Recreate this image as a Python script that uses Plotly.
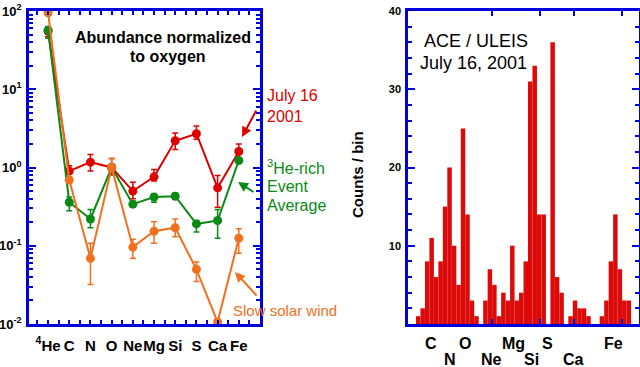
import numpy as np
import plotly.graph_objects as go

# ---------------- data: left panel (abundance normalized to O) ----------------
elements = ["4He", "C", "N", "O", "Ne", "Mg", "Si", "S", "Ca", "Fe"]
element_ticktext = ["<sup>4</sup>He", "C", "N", "O", "Ne", "Mg", "Si", "S", "Ca", "Fe"]

july16 = [55, 0.90, 1.17, 1.0, 0.50, 0.76, 2.2, 2.7, 0.55, 1.6]
july16_err_hi = [8, 0.15, 0.30, 0.30, 0.15, 0.18, 0.55, 0.70, 0.24, 0.40]
july16_err_lo = [8, 0.15, 0.27, 0.20, 0.10, 0.09, 0.50, 0.40, 0.24, 0.30]

he3rich = [57, 0.36, 0.22, 1.0, 0.34, 0.42, 0.43, 0.19, 0.21, 1.23]
he3rich_err_hi = [6, 0.06, 0.07, 0.10, 0.03, 0.04, 0.04, 0.02, 0.08, 0.10]
he3rich_err_lo = [12, 0.08, 0.05, 0.10, 0.03, 0.06, 0.04, 0.04, 0.085, 0.10]

slowsw = [95, 0.69, 0.069, 1.0, 0.096, 0.153, 0.17, 0.050, 0.0106, 0.125]
slowsw_err_hi = [5, 0.05, 0.039, 0.30, 0.025, 0.05, 0.05, 0.012, 0.0, 0.04]
slowsw_err_lo = [5, 0.05, 0.037, 0.10, 0.027, 0.045, 0.04, 0.015, 0.0, 0.045]

# ---------------- data: right panel (mass histogram, log-mass bins) ----------------
counts = [1, 2, 8, 11, 6, 8, 15, 20, 10, 5, 25, 14, 3, 1, 0, 3, 7, 5, 1, 4,
          3, 10, 3, 4, 8, 31, 33, 14, 14, 0, 36, 6, 4, 0, 1, 3, 2, 2, 1, 0,
          0, 1, 3, 8, 14, 7, 3, 3]
log_mass_first_edge = 1.0231   # log10(mass) of the first bin edge
log_mass_bin = 0.01644         # bin width in log10(mass)
mass_range = [9.86, 69.4]
mass_ticks = [20, 30, 40, 60]
mass_labels_top = [("C", 12), ("O", 16), ("Mg", 24), ("S", 32), ("Fe", 56)]
mass_labels_bot = [("N", 14), ("Ne", 20), ("Si", 28), ("Ca", 40)]
count_range = [0, 40]
count_ticks = [10, 20, 30, 40]

# ---------------- styling ----------------
BLUE = "#0000dd"
RED = "#dd0000"
GREEN = "#0a8a14"
ORANGE = "#f0701e"
BAR_RED = "#dd0a0a"
FONT = "Liberation Sans, Arial, Helvetica, sans-serif"
W, H = 640, 367
R_X0, R_X1, P_Y0, P_Y1 = 408, 639, 11, 324   # right plot area in pixels


def pxx(x):
    return x / W


def pxy(y):
    return 1 - y / H


def mass_to_bin(m):
    """position of a mass on the histogram's bin-index axis"""
    return float((np.log10(m) - log_mass_first_edge) / log_mass_bin - 0.5)


X2_RANGE = [mass_to_bin(mass_range[0]), mass_to_bin(mass_range[1])]

fig = go.Figure()

xidx = list(range(len(elements)))
for vals, hi, lo, col in [
    (july16, july16_err_hi, july16_err_lo, RED),
    (he3rich, he3rich_err_hi, he3rich_err_lo, GREEN),
    (slowsw, slowsw_err_hi, slowsw_err_lo, ORANGE),
]:
    fig.add_trace(go.Scatter(
        x=xidx, y=vals, mode="lines+markers",
        line=dict(color=col, width=2),
        marker=dict(color=col, size=9),
        error_y=dict(type="data", symmetric=False, array=hi, arrayminus=lo,
                     color=col, thickness=1.5, width=3),
        xaxis="x", yaxis="y",
    ))

bins = list(range(len(counts)))
fig.add_trace(go.Bar(
    x=bins, y=counts, width=1,
    marker=dict(color=BAR_RED, line=dict(width=0.02, color=BAR_RED)),
    xaxis="x2", yaxis="y2",
))

frame = dict(showline=True, linecolor=BLUE, linewidth=2.5, ticks="inside",
             tickcolor=BLUE, tickwidth=2, showgrid=False, zeroline=False,
             mirror="ticks", automargin=False)

fig.update_layout(
    width=W, height=H, margin=dict(l=0, r=0, t=0, b=0, autoexpand=False),
    paper_bgcolor="white", plot_bgcolor="white", showlegend=False,
    font=dict(family=FONT, color="black"),
    xaxis=dict(frame, domain=[pxx(29), pxx(260)], range=[-0.9, 10.0],
               tickmode="array", tickvals=xidx, ticktext=element_ticktext,
               ticklen=4, ticklabelstandoff=6, tickangle=0,
               tickfont=dict(size=15, family=FONT, weight="bold"),
               minor=dict(ticks="inside", ticklen=4, tickwidth=2, tickcolor=BLUE,
                          dtick=0.5, tick0=0.5),
               anchor="y"),
    yaxis=dict(frame, domain=[pxy(P_Y1), pxy(P_Y0)], type="log", range=[-2, 2],
               tickmode="array", tickvals=[0.01, 0.1, 1, 10, 100],
               ticktext=["10<sup>-2</sup>", "10<sup>-1</sup>", "10<sup>0</sup>",
                         "10<sup>1</sup>", "10<sup>2</sup>"],
               ticklen=7, ticklabelstandoff=2,
               tickfont=dict(size=13, family=FONT, weight="bold"),
               minor=dict(ticks="inside", ticklen=4, tickwidth=2, tickcolor=BLUE,
                          dtick="D1"),
               anchor="x"),
    xaxis2=dict(frame, domain=[pxx(R_X0), pxx(R_X1)], range=X2_RANGE,
                tickmode="array", tickvals=[mass_to_bin(m) for m in mass_ticks],
                showticklabels=False, ticklen=5, anchor="y2"),
    yaxis2=dict(frame, domain=[pxy(P_Y1), pxy(P_Y0)], range=count_range,
                tickmode="array", tickvals=count_ticks,
                ticktext=[str(v) for v in count_ticks], ticklen=7,
                ticklabelstandoff=2,
                tickfont=dict(size=11, family=FONT, weight="bold"),
                minor=dict(ticks="inside", ticklen=4, tickwidth=2, tickcolor=BLUE,
                           dtick=2, tick0=0),
                anchor="x2"),
)

ann = []


def text(x, y, s, size, color="black", bold=False, xanchor="center", angle=0):
    ann.append(dict(x=pxx(x), y=pxy(y), xref="paper", yref="paper", text=s,
                    showarrow=False, xanchor=xanchor, yanchor="middle",
                    textangle=angle,
                    font=dict(size=size, color=color, family=FONT,
                              weight="bold" if bold else "normal")))


text(163, 37, "Abundance normalized", 16, bold=True)
text(168, 57, "to oxygen", 16, bold=True)
text(265, 96, "July 16", 16, RED, xanchor="left")
text(265, 116, "2001", 16, RED, xanchor="left")
text(265, 167, "<sup>3</sup>He-rich", 16, GREEN, xanchor="left")
text(265, 186, "Event", 16, GREEN, xanchor="left")
text(265, 205, "Average", 16, GREEN, xanchor="left")
text(231, 310, "Slow solar wind", 15, ORANGE, xanchor="left")
text(476, 41, "ACE / ULEIS", 18)
text(473, 63, "July 16, 2001", 18)
text(357, 175, "Counts / bin", 15, bold=True, angle=-90)

for (tx_, ty_, axp, ayp, col) in [(242, 137, 15, -28, RED), (238, 182, 17, 11, GREEN),
                                  (235, 272, 23, 25, ORANGE)]:
    ann.append(dict(x=pxx(tx_), y=pxy(ty_), xref="paper", yref="paper", text="",
                    showarrow=True, ax=axp, ay=ayp, arrowhead=2, arrowsize=1,
                    arrowwidth=2, arrowcolor=col))

for rows, ypix in [(mass_labels_top, 343), (mass_labels_bot, 359)]:
    for name, m in rows:
        ann.append(dict(x=mass_to_bin(m), y=pxy(ypix), xref="x2", yref="paper",
                        text=name, showarrow=False, yanchor="middle",
                        font=dict(size=16, family=FONT, weight="bold", color="black")))

fig.update_layout(annotations=ann)
fig.write_html("out.html", config={"displayModeBar": False},
               post_script="document.body.style.margin='0px';"
                           "document.body.style.overflow='hidden';")
